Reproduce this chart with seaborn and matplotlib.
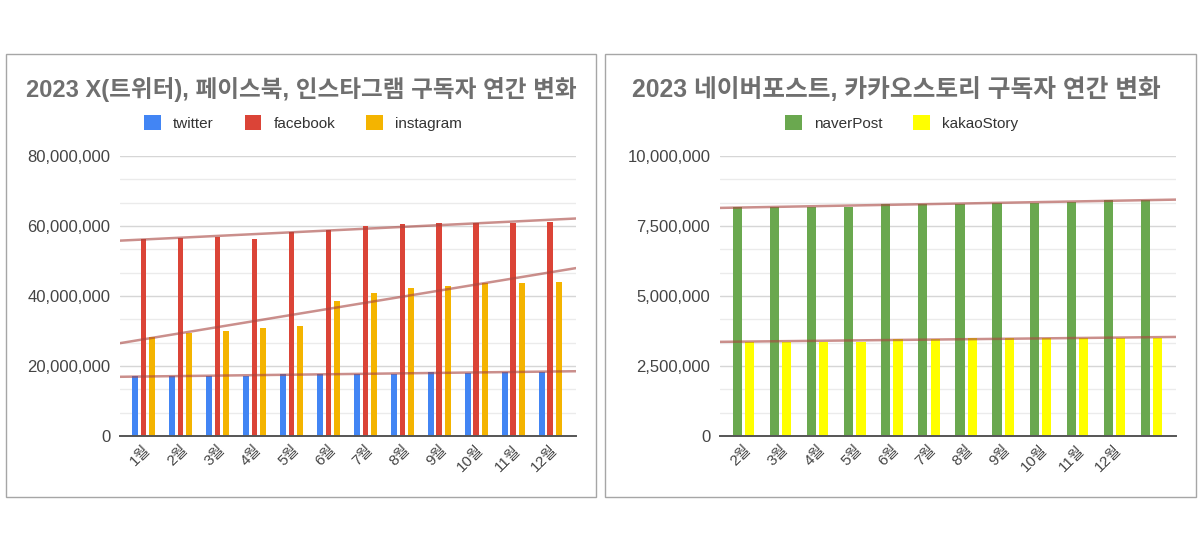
import numpy as np
import pandas as pd
import matplotlib
matplotlib.use("Agg")
import matplotlib.pyplot as plt
import seaborn as sns
from matplotlib.patches import Rectangle
from matplotlib.ticker import FuncFormatter, AutoMinorLocator, MultipleLocator

months = [f"{m}월" for m in range(1, 13)]

# left chart (values in subscribers)
twitter = [17.1e6, 17.1e6, 17.1e6, 17.2e6, 17.7e6, 17.7e6, 17.8e6, 17.8e6, 18.3e6, 18.1e6, 18.3e6, 18.3e6]
facebook = [56.2e6, 56.7e6, 57.0e6, 56.4e6, 58.4e6, 58.9e6, 60.0e6, 60.5e6, 60.8e6, 60.8e6, 60.8e6, 61.1e6]
instagram = [28.2e6, 29.3e6, 30.0e6, 30.8e6, 31.5e6, 38.6e6, 41.0e6, 42.3e6, 43.0e6, 43.8e6, 43.8e6, 44.1e6]

# right chart
naver_ticklabels = [f"{m}월" for m in range(2, 13)] + [""]
naverPost = [8.19e6, 8.19e6, 8.19e6, 8.19e6, 8.29e6, 8.29e6, 8.30e6, 8.33e6, 8.33e6, 8.37e6, 8.43e6, 8.43e6]
kakaoStory = [3.37e6, 3.37e6, 3.37e6, 3.37e6, 3.48e6, 3.48e6, 3.49e6, 3.49e6, 3.49e6, 3.49e6, 3.50e6, 3.50e6]

left_title = "2023 X(트위터), 페이스북, 인스타그램 구독자 연간 변화"
right_title = "2023 네이버포스트, 카카오스토리 구독자 연간 변화"

sns.set_theme(style="white")
plt.rcParams['font.family'] = ['Liberation Sans', 'Noto Sans CJK KR', 'DejaVu Sans']

W, H = 1200, 547
fig = plt.figure(figsize=(12, 5.47), dpi=100)

def fx(px):
    return px / W

def fy(py):
    return 1 - py / H

# panel frames
for x0, x1 in [(6, 596), (605, 1196)]:
    fig.add_artist(Rectangle((fx(x0), fy(497)), fx(x1 - x0), (497 - 54) / H,
                             transform=fig.transFigure, fill=False, ec="#a6a6a6", lw=1))

trend_color = "#a8443f"
axis_text = "#444444"


def style_axis(ax, ymax, major, ticklabels):
    ax.set_ylim(0, ymax)
    ax.yaxis.set_major_locator(MultipleLocator(major))
    ax.yaxis.set_minor_locator(AutoMinorLocator(3))
    ax.yaxis.set_major_formatter(FuncFormatter(lambda v, p: f"{v:,.0f}"))
    ax.grid(axis="y", which="major", color="#d6d6d6", lw=1)
    ax.grid(axis="y", which="minor", color="#ebebeb", lw=1)
    ax.set_axisbelow(True)
    for s in ["top", "right", "left"]:
        ax.spines[s].set_visible(False)
    ax.spines["bottom"].set_color("#555555")
    ax.spines["bottom"].set_linewidth(1.4)
    ax.tick_params(axis="y", which="both", length=0, pad=7, labelsize=12, labelcolor=axis_text)
    ax.tick_params(axis="x", length=0, pad=5, labelsize=11, labelcolor=axis_text)
    ax.set_xticks(range(len(ticklabels)))
    ax.set_xticklabels(ticklabels, rotation=45, ha="right", rotation_mode="anchor")
    ax.set_xlabel("")
    ax.set_ylabel("")


def add_trends(ax, series):
    x = np.arange(len(series[0]))
    lo, hi = ax.get_xlim()
    xs = np.array([lo, hi])
    for vals in series:
        k, b = np.polyfit(x, vals, 1)
        ax.plot(xs, k * xs + b, color=trend_color, alpha=0.6, lw=1.8, zorder=5)
    ax.set_xlim(lo, hi)


def top_legend(ax, cx, cy):
    handles, labels = ax.get_legend_handles_labels()
    ax.legend(handles, labels, loc="center", bbox_to_anchor=(fx(cx), fy(cy)),
              bbox_transform=fig.transFigure, ncol=len(labels), frameon=False,
              handlelength=1.1, handleheight=1.1, handletextpad=0.8,
              columnspacing=2.0, fontsize=11, labelcolor="#333333")


# left chart
df_left = pd.DataFrame({
    "month": months * 3,
    "value": twitter + facebook + instagram,
    "series": ["twitter"] * 12 + ["facebook"] * 12 + ["instagram"] * 12,
})
ax1 = fig.add_axes([fx(120), fy(436), fx(456), 280 / H])
sns.barplot(data=df_left, x="month", y="value", hue="series", ax=ax1,
            palette=["#4285f4", "#db4437", "#f4b400"], width=0.69, gap=0.3,
            saturation=1, linewidth=0)
ax1.set_xlim(-0.635, 11.69)
style_axis(ax1, 80e6, 20e6, months)
add_trends(ax1, [facebook, instagram, twitter])
top_legend(ax1, 303, 123)

# right chart
df_right = pd.DataFrame({
    "month": months * 2,
    "value": naverPost + kakaoStory,
    "series": ["naverPost"] * 12 + ["kakaoStory"] * 12,
})
ax2 = fig.add_axes([fx(720), fy(436), fx(456), 280 / H])
sns.barplot(data=df_right, x="month", y="value", hue="series", ax=ax2,
            palette=["#6aa84f", "#ffff00"], width=0.66, gap=0.25,
            saturation=1, linewidth=0)
ax2.set_xlim(-0.635, 11.66)
style_axis(ax2, 10e6, 2.5e6, naver_ticklabels)
add_trends(ax2, [naverPost, kakaoStory])
top_legend(ax2, 902, 123)

fig.text(fx(301), fy(90), left_title, ha="center", va="center", fontsize=17,
         fontweight="bold", color="#6f6f6f")
fig.text(fx(896), fy(90), right_title, ha="center", va="center", fontsize=17.8,
         fontweight="bold", color="#6f6f6f")

fig.savefig("out.png", dpi=100)
